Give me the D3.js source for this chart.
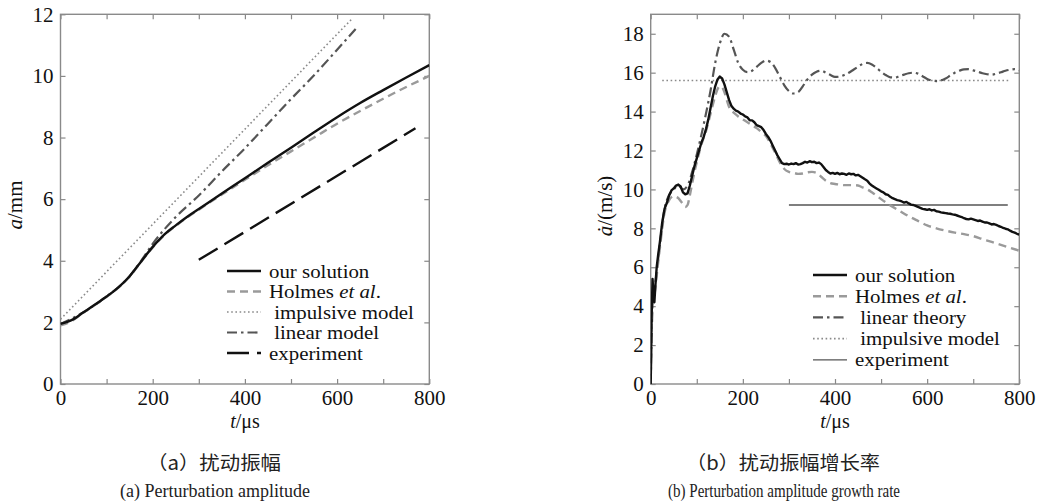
<!DOCTYPE html>
<html>
<head>
<meta charset="utf-8">
<script src="https://cdn.jsdelivr.net/npm/d3@7"></script>
<style>
  html, body { margin: 0; padding: 0; background: #fff; }
  svg { display: block; }
  .tick text { font-family: "Liberation Serif", "Times New Roman", "DejaVu Serif", serif; font-size: 21px; fill: #111; }
</style>
</head>
<body>
<svg id="fig" width="1038" height="504"></svg>
<script>
// ---- shared axis values ----
const timeTicks = [0, 100, 200, 300, 400, 500, 600, 700, 800];
const timeLabels = [0, 200, 400, 600, 800];
const ampTicks = [0, 2, 4, 6, 8, 10, 12];
const rateTicks = [0, 2, 4, 6, 8, 10, 12, 14, 16, 18];

// ---- (a) perturbation amplitude a (mm) vs t (us) ----
const ampOurs = [[0,1.95],[25,2.08],[50,2.33],[75,2.58],[100,2.84],[125,3.13],[150,3.5],[175,3.98],[200,4.45],[225,4.85],[250,5.15],[275,5.43],[300,5.68],[350,6.18],[400,6.68],[450,7.18],[500,7.67],[550,8.17],[600,8.66],[650,9.12],[700,9.54],[750,9.95],[800,10.35]];
const ampHolmes = [[0,1.9],[25,2.05],[50,2.32],[75,2.57],[100,2.83],[125,3.12],[150,3.49],[175,3.97],[200,4.43],[225,4.83],[250,5.13],[275,5.41],[300,5.66],[350,6.15],[400,6.63],[450,7.1],[500,7.55],[550,8.0],[600,8.45],[650,8.86],[700,9.26],[750,9.64],[800,10.0]];
const ampImpulsive = [[0,2.1],[632,11.85]];
const ampLinear = [[0,1.95],[50,2.33],[100,2.84],[150,3.5],[175,4.0],[200,4.55],[250,5.42],[300,6.12],[350,6.9],[400,7.65],[450,8.45],[500,9.25],[550,10.02],[600,10.85],[646,11.62]];
const ampExperiment = [[300,4.03],[770,8.3]];

// ---- (b) growth rate da/dt (m/s) vs t (us) ----
const rateOurs = [[0,0],[2,3.5],[4,5.4],[6,4.6],[8,4.2],[10,5.0],[13,6.0],[16,6.6],[20,7.3],[25,8.3],[30,9.0],[35,9.3],[40,9.7],[45,9.95],[50,10.05],[55,10.2],[60,10.25],[65,10.15],[70,9.85],[75,9.75],[80,9.8],[85,10.2],[90,10.7],[95,11.2],[100,11.6],[105,12.0],[110,12.4],[115,12.7],[120,13.1],[125,13.6],[130,14.2],[135,14.8],[140,15.3],[145,15.65],[150,15.8],[155,15.7],[160,15.4],[165,15.0],[170,14.6],[175,14.3],[180,14.15],[185,14.05],[190,14.0],[195,13.9],[200,13.85],[205,13.75],[210,13.7],[215,13.55],[220,13.55],[225,13.45],[230,13.3],[235,13.25],[240,13.2],[245,13.05],[250,12.85],[255,12.7],[260,12.5],[265,12.25],[270,12.0],[275,11.75],[280,11.55],[285,11.35],[290,11.3],[295,11.32],[300,11.28],[305,11.33],[310,11.3],[315,11.35],[320,11.28],[325,11.3],[330,11.35],[335,11.42],[340,11.38],[345,11.45],[350,11.4],[355,11.42],[360,11.35],[365,11.38],[370,11.3],[375,11.15],[380,11.0],[385,10.9],[390,10.82],[395,10.85],[400,10.8],[405,10.85],[410,10.78],[415,10.82],[420,10.8],[425,10.75],[430,10.82],[435,10.78],[440,10.8],[445,10.72],[450,10.75],[455,10.68],[460,10.6],[465,10.52],[470,10.45],[475,10.3],[480,10.2],[485,10.12],[490,10.05],[495,9.98],[500,9.9],[505,9.85],[510,9.75],[515,9.72],[520,9.62],[525,9.55],[530,9.5],[535,9.45],[540,9.42],[545,9.38],[550,9.32],[555,9.36],[560,9.28],[565,9.22],[570,9.2],[575,9.15],[580,9.1],[585,9.05],[590,9.0],[595,8.98],[600,8.95],[605,8.98],[610,8.92],[615,8.95],[620,8.88],[625,8.86],[630,8.82],[635,8.8],[640,8.78],[645,8.76],[650,8.75],[655,8.72],[660,8.7],[665,8.66],[670,8.62],[675,8.58],[680,8.52],[685,8.48],[690,8.46],[695,8.5],[700,8.46],[705,8.42],[710,8.38],[715,8.4],[720,8.35],[725,8.3],[730,8.3],[735,8.25],[740,8.2],[745,8.22],[750,8.18],[755,8.12],[760,8.08],[765,8.02],[770,7.98],[775,7.95],[780,7.88],[785,7.82],[790,7.78],[795,7.72],[800,7.68]];
const rateHolmes = [[0,0],[3,3.8],[6,4.3],[10,4.9],[15,6.0],[20,7.0],[25,8.0],[30,8.8],[35,9.2],[40,9.45],[45,9.6],[50,9.65],[55,9.62],[60,9.55],[65,9.4],[70,9.25],[75,9.1],[80,9.2],[85,9.7],[90,10.3],[95,10.9],[100,11.4],[110,12.3],[120,13.0],[130,13.9],[140,14.8],[145,15.15],[150,15.3],[155,15.25],[160,15.0],[165,14.6],[170,14.25],[175,14.05],[180,13.95],[190,13.75],[200,13.6],[210,13.45],[220,13.3],[230,13.15],[240,12.95],[250,12.75],[260,12.35],[270,11.9],[280,11.4],[290,11.05],[300,10.9],[310,10.85],[320,10.8],[330,10.82],[340,10.88],[350,10.9],[360,10.85],[370,10.65],[380,10.45],[390,10.32],[400,10.28],[410,10.25],[420,10.22],[430,10.22],[440,10.22],[450,10.2],[460,10.1],[470,10.0],[480,9.85],[490,9.68],[500,9.5],[520,9.18],[540,8.9],[560,8.62],[580,8.38],[600,8.15],[620,8.0],[640,7.88],[660,7.78],[680,7.7],[700,7.6],[720,7.45],[740,7.3],[760,7.15],[780,7.0],[800,6.85]];
const rateLinear = [[0,0],[5,4.5],[10,5.2],[20,7.2],[30,9.0],[40,9.7],[50,10.0],[60,10.2],[70,10.0],[80,10.2],[90,10.9],[100,11.8],[110,12.8],[120,13.9],[130,15.1],[140,16.5],[150,17.5],[160,18.0],[170,17.85],[180,17.2],[190,16.5],[200,16.15],[210,16.03],[220,16.1],[230,16.3],[240,16.5],[250,16.62],[260,16.55],[270,16.25],[280,15.8],[290,15.35],[300,15.05],[310,14.93],[320,15.0],[330,15.3],[340,15.65],[350,15.9],[360,16.05],[370,16.1],[380,16.0],[390,15.88],[400,15.78],[410,15.8],[420,15.88],[430,16.0],[440,16.15],[450,16.3],[460,16.45],[470,16.5],[480,16.42],[490,16.25],[500,16.05],[510,15.88],[520,15.76],[530,15.75],[540,15.82],[550,15.9],[560,15.97],[570,16.0],[580,15.95],[590,15.82],[600,15.68],[610,15.6],[620,15.57],[630,15.6],[640,15.7],[650,15.85],[660,16.0],[670,16.1],[680,16.17],[690,16.18],[700,16.12],[710,16.05],[720,15.97],[730,15.92],[740,15.9],[750,15.95],[760,16.02],[770,16.1],[780,16.15],[790,16.18],[800,16.12]];
const rateImpulsive = [[25,15.6],[780,15.6]];
const rateExperiment = [[300,9.2],[775,9.2]];

const legendA = ["our solution", "Holmes|et al.", " impulsive model", " linear model", "experiment"];
const legendB = ["our solution", "Holmes|et al.", " linear theory", " impulsive model", "experiment"];

// ---- line styles ----
const style = {
  ours:      { stroke: "#111",    width: 2.4, dash: null },
  holmes:    { stroke: "#9a9a9a", width: 2.4, dash: "8,5" },
  impulsive: { stroke: "#8a8a8a", width: 1.6, dash: "1.6,2.6" },
  linear:    { stroke: "#555",    width: 2.2, dash: "10,4,2.5,4" },
  expA:      { stroke: "#111",    width: 2.4, dash: "22,8" },
  expB:      { stroke: "#555",    width: 1.3, dash: null }
};

const svg = d3.select("#fig");
const serif = '"Liberation Serif", "Times New Roman", "DejaVu Serif", serif';

function panel(opts) {
  const { id, left, right, top, bottom, yMax, yTicks, series, legend, legendX, legendY, legendStep } = opts;
  const x = d3.scaleLinear().domain([0, 800]).range([left, right]);
  const y = d3.scaleLinear().domain([0, yMax]).range([bottom, top]);

  const g = svg.append("g");
  g.append("clipPath").attr("id", "clip-" + id)
    .append("rect").attr("x", left).attr("y", top).attr("width", right - left).attr("height", bottom - top);

  const fmt = d => timeLabels.includes(d) ? d : "";
  const axB = g.append("g").attr("transform", `translate(0,${bottom})`)
    .call(d3.axisBottom(x).tickValues(timeTicks).tickFormat(fmt).tickSize(-5).tickPadding(6));
  const axT = g.append("g").attr("transform", `translate(0,${top})`)
    .call(d3.axisTop(x).tickValues(timeTicks).tickFormat("").tickSize(-5));
  const axL = g.append("g").attr("transform", `translate(${left},0)`)
    .call(d3.axisLeft(y).tickValues(yTicks).tickSize(-5).tickPadding(7));
  const axR = g.append("g").attr("transform", `translate(${right},0)`)
    .call(d3.axisRight(y).tickValues(yTicks).tickFormat("").tickSize(-5));
  [axB, axT, axL, axR].forEach(a => {
    a.select(".domain").remove();
    a.selectAll(".tick line").attr("stroke", "#888").attr("stroke-width", 1.2);
    // unlabeled ticks keep only their mark
    a.selectAll(".tick text").filter(function () { return this.textContent === ""; }).remove();
  });

  g.append("rect").attr("x", left).attr("y", top).attr("width", right - left).attr("height", bottom - top)
    .attr("fill", "none").attr("stroke", "#8a8a8a").attr("stroke-width", 1.4);

  const plot = g.append("g").attr("clip-path", `url(#clip-${id})`);
  series.forEach(s => {
    const line = d3.line().x(d => x(d[0])).y(d => y(d[1])).curve(s.curve || d3.curveLinear);
    plot.append("path").datum(s.data)
      .attr("d", line)
      .attr("fill", "none")
      .attr("stroke", s.style.stroke)
      .attr("stroke-width", s.style.width)
      .attr("stroke-dasharray", s.style.dash)
      .attr("stroke-linejoin", "round");
  });

  // legend: 18px type widened to the printed width
  const lg = g.append("g");
  legend.forEach((label, i) => {
    const st = series.find(s => s.key === opts.legendKeys[i]).style;
    const cy = legendY + i * legendStep;
    lg.append("line").attr("x1", legendX).attr("x2", legendX + 34).attr("y1", cy).attr("y2", cy)
      .attr("stroke", st.stroke).attr("stroke-width", st.width).attr("stroke-dasharray", st.dash);
    const t = lg.append("text")
      .attr("transform", `translate(${legendX + 42},${cy + 6.5}) scale(1.16,1)`)
      .attr("font-family", serif).attr("font-size", 18).attr("fill", "#111")
      .attr("xml:space", "preserve");
    const parts = label.split("|");
    t.append("tspan").text(parts[0]);
    if (parts[1]) {
      t.append("tspan").text(" ");
      t.append("tspan").attr("font-style", "italic").text(parts[1].replace(".", ""));
      t.append("tspan").text(".");
    }
  });

  return { x, y, g };
}

panel({
  id: "a", left: 60.5, right: 429.3, top: 14.3, bottom: 384, yMax: 12, yTicks: ampTicks,
  series: [
    { key: "impulsive", data: ampImpulsive, style: style.impulsive },
    { key: "linear", data: ampLinear, style: style.linear, curve: d3.curveMonotoneX },
    { key: "experiment", data: ampExperiment, style: style.expA },
    { key: "holmes", data: ampHolmes, style: style.holmes, curve: d3.curveMonotoneX },
    { key: "ours", data: ampOurs, style: style.ours, curve: d3.curveMonotoneX }
  ],
  legend: legendA, legendKeys: ["ours", "holmes", "impulsive", "linear", "experiment"],
  legendX: 227, legendY: 271, legendStep: 20.5
});

panel({
  id: "b", left: 650.7, right: 1019.3, top: 14.3, bottom: 384, yMax: 19, yTicks: rateTicks,
  series: [
    { key: "impulsive", data: rateImpulsive, style: style.impulsive },
    { key: "experiment", data: rateExperiment, style: style.expB },
    { key: "linear", data: rateLinear, style: style.linear, curve: d3.curveMonotoneX },
    { key: "holmes", data: rateHolmes, style: style.holmes, curve: d3.curveMonotoneX },
    { key: "ours", data: rateOurs, style: style.ours }
  ],
  legend: legendB, legendKeys: ["ours", "holmes", "linear", "impulsive", "experiment"],
  legendX: 813, legendY: 275, legendStep: 21.2
});

// axis titles
function xTitle(cx) {
  const t = svg.append("text").attr("x", cx).attr("y", 428).attr("text-anchor", "middle")
    .attr("font-family", serif).attr("font-size", 20).attr("fill", "#111");
  t.append("tspan").attr("font-style", "italic").text("t");
  t.append("tspan").text("/μs");
}
xTitle(245);
xTitle(835);

function yTitle(bx, cy, sym) {
  const t = svg.append("text").attr("transform", `translate(${bx},${cy}) rotate(-90)`)
    .attr("text-anchor", "middle").attr("font-family", serif).attr("font-size", 21).attr("fill", "#111");
  t.append("tspan").attr("font-style", "italic").text(sym);
  t.append("tspan").text(sym === "a" ? "/mm" : "/(m/s)");
}
yTitle(22, 205, "a");
yTitle(612, 206, "ȧ");

// captions (condensed to their printed widths)
const captions = [
  { x: 214, y: 470, w: 134, text: "（a）扰动振幅", cjk: true },
  { x: 215, y: 497, w: 190, text: "(a) Perturbation amplitude", cjk: false },
  { x: 783, y: 470, w: 194, text: "（b）扰动振幅增长率", cjk: true },
  { x: 784, y: 497, w: 232, text: "(b) Perturbation amplitude growth rate", cjk: false }
];
captions.forEach(c => {
  svg.append("text").attr("x", c.x - c.w / 2).attr("y", c.y)
    .attr("font-family", c.cjk ? '"Noto Sans CJK SC", sans-serif' : serif)
    .attr("font-size", c.cjk ? 19 : 18).attr("fill", "#222")
    .attr("textLength", c.w).attr("lengthAdjust", "spacingAndGlyphs")
    .text(c.text);
});
</script>
</body>
</html>
